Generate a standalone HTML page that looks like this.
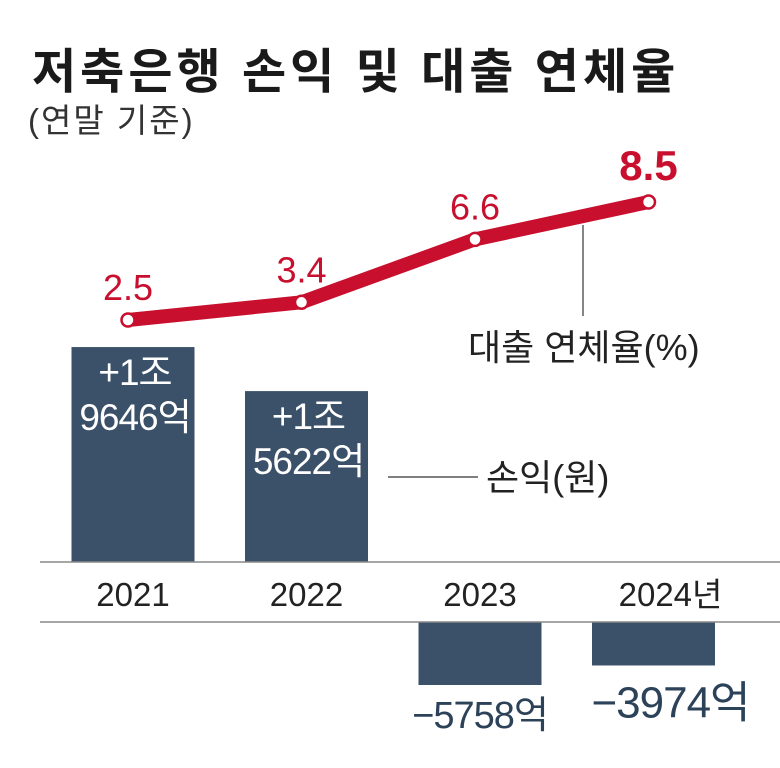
<!DOCTYPE html>
<html><head><meta charset="utf-8">
<style>
html,body{margin:0;padding:0;background:#fff;}
body{width:780px;height:763px;overflow:hidden;font-family:"Liberation Sans","Noto Sans CJK KR",sans-serif;}
svg text{font-family:"Liberation Sans","Noto Sans CJK KR",sans-serif;}
</style></head>
<body>
<svg id="chart" width="780" height="763">
<text x="32" y="88" font-size="48" font-weight="bold" letter-spacing="4" fill="#1a1a1a">저축은행 손익 및 대출 연체율</text>
<text x="28" y="132" font-size="33" letter-spacing="2" fill="#333">(연말 기준)</text>
<g id="bars"></g>
<rect x="0" y="562" width="780" height="60" fill="#fff"/>
<line x1="40" y1="562" x2="780" y2="562" stroke="#888" stroke-width="1.5"/>
<line x1="40" y1="622" x2="780" y2="622" stroke="#888" stroke-width="1.5"/>
<g id="years"></g>
<g id="line"></g>
<line x1="583" y1="225" x2="583" y2="316" stroke="#333" stroke-width="1.2"/>
<text x="468" y="360" font-size="36" fill="#222">대출 연체율(%)</text>
<line x1="388" y1="477" x2="478" y2="477" stroke="#333" stroke-width="1.2"/>
<text x="486" y="490" font-size="36" fill="#222">손익(원)</text>
</svg>
<script>
const years=["2021","2022","2023","2024년"];
const profit=[19646,15622,-5758,-3974];
const profitLabels=[["+1조","9646억"],["+1조","5622억"],["−5758억"],["−3974억"]];
const rates=[2.5,3.4,6.6,8.5];
const rateLabels=["2.5","3.4","6.6","8.5"];
const NS="http://www.w3.org/2000/svg";
function xCenter(i){return 133+i*173.5;}
function yBar(v){return v>=0?562-v*0.01094:622-v*0.01094;}
function yRate(v){return 320-(v-2.5)*19.67;}
function mk(tag,attrs,parent,txt){const e=document.createElementNS(NS,tag);for(const k in attrs)e.setAttribute(k,attrs[k]);if(txt!=null)e.textContent=txt;parent.appendChild(e);return e;}
const gb=document.getElementById('bars'),gy=document.getElementById('years'),gl=document.getElementById('line');
profit.forEach((v,i)=>{
 const cx=xCenter(i),w=123;
 const base=v>=0?562:622, top=yBar(v);
 const r=mk('rect',{x:cx-w/2,y:Math.min(base,top),width:w,height:Math.abs(base-top),fill:'#3a5169'},gb);
 
 
 const lab=profitLabels[i];
 if(v>=0){
  lab.forEach((s,j)=>{const t=mk('text',{x:cx+2,y:top+38+j*45,'font-size':37,'letter-spacing':-1,fill:'#fff','text-anchor':'middle'},gb,s);
   
   });
 }else{
  const big=i==3;
  const t=mk('text',{x:cx+(big?17:0),y:top+(big?52:43),'font-size':big?44:38,'letter-spacing':-1,fill:'#2c4258','text-anchor':'middle'},gb,lab[0]);
  
  
 }
 const yt=mk('text',{x:cx+(i==3?17:0),y:606,'font-size':33,fill:'#222','text-anchor':'middle'},gy,years[i]);
 
 
});
const pts=rates.map((v,i)=>[xCenter(i)-5,yRate(v)]);
const pl=mk('polyline',{points:pts.map(p=>p.join(',')).join(' '),fill:'none',stroke:'#c8102e','stroke-width':14,'stroke-linejoin':'round','stroke-linecap':'round'},gl);


pts.forEach((p,i)=>{
 const c=mk('circle',{cx:p[0],cy:p[1],r:6.5,fill:'#fff',stroke:'#c8102e','stroke-width':2.5},gl);
 
 
 const t=mk('text',{x:p[0],y:p[1]-(i==3?22:20),'font-size':i==3?42:36,'font-weight':i==3?'bold':'normal',fill:'#c8102e','text-anchor':'middle'},gl,rateLabels[i]);
 
 
});
</script>
</body></html>
